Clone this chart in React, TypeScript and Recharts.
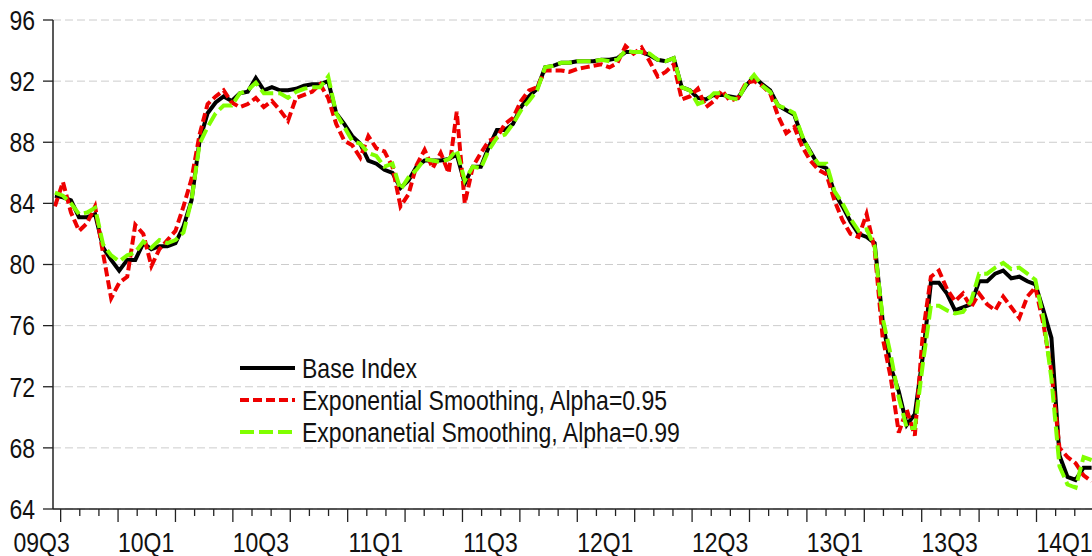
import { LineChart, Line, XAxis, YAxis, CartesianGrid, Legend } from 'recharts'

// weekly-ish samples, x measured in months from the start of 2010
const START_MONTH = -3.3
const STEP_MONTHS = 0.42

const BASE_INDEX = [
  84.5, 84.4, 84.2, 83.1, 83.1, 83.3, 81.1, 80.3, 79.6, 80.3,
  80.3, 81.4, 81.0, 81.2, 81.2, 81.4, 82.5, 84.2, 88.1, 89.9,
  90.6, 91.0, 90.7, 91.2, 91.3, 92.2, 91.4, 91.6, 91.4, 91.4,
  91.5, 91.7, 91.8, 91.8, 92.0, 89.9, 89.2, 88.4, 87.9, 86.8,
  86.6, 86.2, 86.0, 85.0, 85.5, 86.4, 86.8, 86.8, 86.8, 86.9,
  87.2, 85.3, 86.4, 86.4, 87.7, 88.8, 88.8, 89.2, 90.3, 91.0,
  91.5, 92.9, 93.0, 93.2, 93.2, 93.3, 93.3, 93.3, 93.4, 93.4,
  93.5, 93.9, 93.9, 93.9, 93.7, 93.4, 93.3, 93.5, 91.6, 91.4,
  90.9, 90.8, 91.1, 91.1, 91.0, 90.9, 91.7, 92.3, 91.8, 91.4,
  90.4, 90.1, 89.8, 88.3, 87.4, 86.5, 86.3, 84.7, 83.8, 82.8,
  82.0, 81.8, 81.4, 76.3, 73.3, 71.7, 69.5, 70.2, 74.0, 78.8,
  78.8, 78.1, 77.0, 77.2, 77.4, 78.9, 78.9, 79.4, 79.6, 79.1,
  79.2, 78.9, 78.7, 77.0, 75.2, 67.5, 66.1, 65.9, 66.7, 66.7,
]

const SMOOTH_95 = [
  83.8, 85.4, 83.4, 82.2, 82.7, 83.8, 80.7, 77.8, 78.8, 79.2,
  82.6, 82.0, 79.9, 81.0, 81.6, 82.2, 83.8, 85.6, 88.5, 90.5,
  91.0, 91.4, 90.6, 90.3, 90.5, 90.9, 90.3, 90.7, 90.1, 89.4,
  90.9, 91.1, 91.3, 91.8, 90.9, 89.2, 88.1, 87.8, 87.0, 88.4,
  87.6, 87.4, 86.4, 83.8, 84.6, 86.5, 87.5, 86.3, 87.3, 86.0,
  90.0, 84.0, 86.4, 87.3, 88.1, 88.3, 89.2, 89.6, 90.7, 91.4,
  91.6, 92.7, 92.7, 92.7, 92.6, 92.8, 92.9, 93.0, 93.1, 92.9,
  93.2, 94.3, 93.8, 94.2, 93.3, 92.3, 92.6, 93.1, 90.8, 91.0,
  91.5, 90.3, 90.7, 91.4, 90.7, 90.9, 91.9, 92.0, 91.7, 91.2,
  89.7, 88.6, 89.0, 87.7, 86.8, 86.2, 85.9, 84.2, 82.9, 82.0,
  81.8, 83.3, 81.0, 75.2, 72.6, 69.0, 70.5, 68.8, 75.5, 79.2,
  79.6, 78.4, 77.6, 78.1, 77.2, 78.1, 77.4, 77.0, 77.9, 77.2,
  76.5, 77.9, 78.5, 76.1, 73.0, 68.0, 67.4, 67.0, 66.2, 65.8,
]

const SMOOTH_99 = [
  84.7, 84.5, 84.0, 83.3, 83.4, 83.7, 81.3, 80.6, 80.2, 80.6,
  80.8, 81.5, 81.1, 81.6, 81.4, 81.6, 82.1, 84.2, 87.9, 89.0,
  89.9, 90.4, 90.4, 91.2, 91.4, 91.9, 91.2, 91.2, 91.2, 90.9,
  91.3, 91.5, 91.6, 91.6, 92.3, 89.9, 89.0, 88.1, 87.9, 87.3,
  87.1, 86.4, 86.6, 84.9, 85.7, 86.2, 86.9, 86.8, 86.7, 86.9,
  87.5, 85.5, 86.4, 86.3, 87.5, 88.3, 88.5, 89.2, 90.1, 90.7,
  91.4, 92.9, 93.0, 93.2, 93.2, 93.3, 93.3, 93.3, 93.4, 93.3,
  93.4, 94.0, 93.9, 93.9, 93.8, 93.4, 93.3, 93.5, 91.6, 91.4,
  90.5, 90.7, 91.2, 91.2, 90.9, 90.8, 91.8, 92.4, 91.7, 91.3,
  90.4, 90.2, 89.9, 88.4, 87.3, 86.6, 86.6, 84.8, 84.0, 83.0,
  82.2, 82.3, 81.2, 76.5, 74.1, 71.3, 69.3, 69.3, 73.5, 77.3,
  77.3, 77.0, 76.8, 76.9, 77.6, 79.4, 79.4, 79.8, 80.1, 79.7,
  79.8, 79.4, 79.0, 76.5, 72.5, 66.8, 65.6, 65.4, 67.4, 67.2,
]

const SERIES_NAMES = [
  'Base Index',
  'Exponential Smoothing, Alpha=0.95',
  'Exponanetial Smoothing, Alpha=0.99',
]

const LABEL_MONTHS = [-3, 0, 6, 12, 18, 24, 30, 36, 42, 48]
const TICK_LABELS = ['09Q3', '10Q1', '10Q3', '11Q1', '11Q3', '12Q1', '12Q3', '13Q1', '13Q3', '14Q1']
const Y_TICKS = [64, 68, 72, 76, 80, 84, 88, 92, 96]

// the original text is narrow and tall: Liberation Sans stretched vertically
const FONT = "'Liberation Sans', Arial, sans-serif"
const FONT_SIZE = 23
const STRETCH = 1.2

const data = BASE_INDEX.map((v, i) => ({
  m: START_MONTH + i * STEP_MONTHS,
  base: v,
  a95: SMOOTH_95[i],
  a99: SMOOTH_99[i],
}))

const monthTicks = Array.from({ length: 54 }, (_, i) => i - 3)

function TallText({ x, y, anchor, children }: any) {
  return (
    <text
      transform={`translate(${x} ${y}) scale(1 ${STRETCH})`}
      textAnchor={anchor}
      dominantBaseline="central"
      fontFamily={FONT}
      fontSize={FONT_SIZE}
      fill="#111"
    >
      {children}
    </text>
  )
}

function XTick({ x, y, payload }: any) {
  const m = payload.value as number
  const quarter = (m + 300) % 3 === 0
  const li = LABEL_MONTHS.indexOf(m)
  return (
    <g>
      <line x1={x} x2={x} y1={y} y2={y + (quarter ? 13 : 7)} stroke="#222" strokeWidth={1.3} />
      {li >= 0 && (
        <TallText x={x + (li === 0 ? -19 : 28)} y={y + 33} anchor="middle">
          {TICK_LABELS[li]}
        </TallText>
      )}
    </g>
  )
}

function YTick({ x, y, payload }: any) {
  return (
    <g>
      <line x1={x - 10} x2={x} y1={y} y2={y} stroke="#222" strokeWidth={1.3} />
      <TallText x={x - 18} y={y} anchor="end">
        {payload.value}
      </TallText>
    </g>
  )
}

function LegendBox({ payload }: any) {
  return (
    <div style={{ display: 'flex', flexDirection: 'column' }}>
      {(payload || []).map((p: any) => (
        <div key={p.value} style={{ display: 'flex', alignItems: 'center', height: 32 }}>
          <svg width={55} height={10} style={{ flexShrink: 0 }}>
            <line x1={0} x2={55} y1={5} y2={5} stroke={p.color} strokeWidth={4}
              strokeDasharray={p.payload?.strokeDasharray} />
          </svg>
          <span
            style={{
              display: 'inline-block',
              marginLeft: 7,
              fontFamily: FONT,
              fontSize: FONT_SIZE,
              lineHeight: '26px',
              color: '#111',
              whiteSpace: 'nowrap',
              transform: `scaleY(${STRETCH})`,
            }}
          >
            {p.value}
          </span>
        </div>
      ))}
    </div>
  )
}

export default function App() {
  return (
    <div style={{ position: 'absolute', left: 0, top: 0, background: '#fff' }}>
      <LineChart width={1092} height={556} data={data} margin={{ top: 20, right: 0, bottom: 0, left: 0 }}>
        <CartesianGrid vertical={false} stroke="#cccccc" strokeDasharray="8 4" />
        <XAxis
          dataKey="m"
          type="number"
          domain={[-3.4, 50.9]}
          ticks={monthTicks}
          interval={0}
          height={47}
          tickSize={0}
          tickMargin={0}
          tick={<XTick />}
          axisLine={{ stroke: '#222', strokeWidth: 1.5 }}
          allowDataOverflow
        />
        <YAxis
          domain={[64, 96]}
          ticks={Y_TICKS}
          interval={0}
          width={53}
          tickSize={0}
          tickMargin={0}
          tick={<YTick />}
          axisLine={{ stroke: '#222', strokeWidth: 1.5 }}
        />
        <Legend
          layout="vertical"
          align="center"
          verticalAlign="middle"
          itemSorter={(item: any) => SERIES_NAMES.indexOf(item.value)}
          content={<LegendBox />}
          wrapperStyle={{ left: 240, top: 352, width: 520, height: 100 }}
        />
        <Line type="linear" dataKey="base" name={SERIES_NAMES[0]} stroke="#000000" strokeWidth={4}
          dot={false} isAnimationActive={false} />
        <Line type="linear" dataKey="a95" name={SERIES_NAMES[1]} stroke="#ee0000" strokeWidth={4}
          strokeDasharray="9 4" dot={false} isAnimationActive={false} />
        <Line type="linear" dataKey="a99" name={SERIES_NAMES[2]} stroke="#80ff00" strokeWidth={4}
          strokeDasharray="14 5" dot={false} isAnimationActive={false} />
      </LineChart>
    </div>
  )
}
